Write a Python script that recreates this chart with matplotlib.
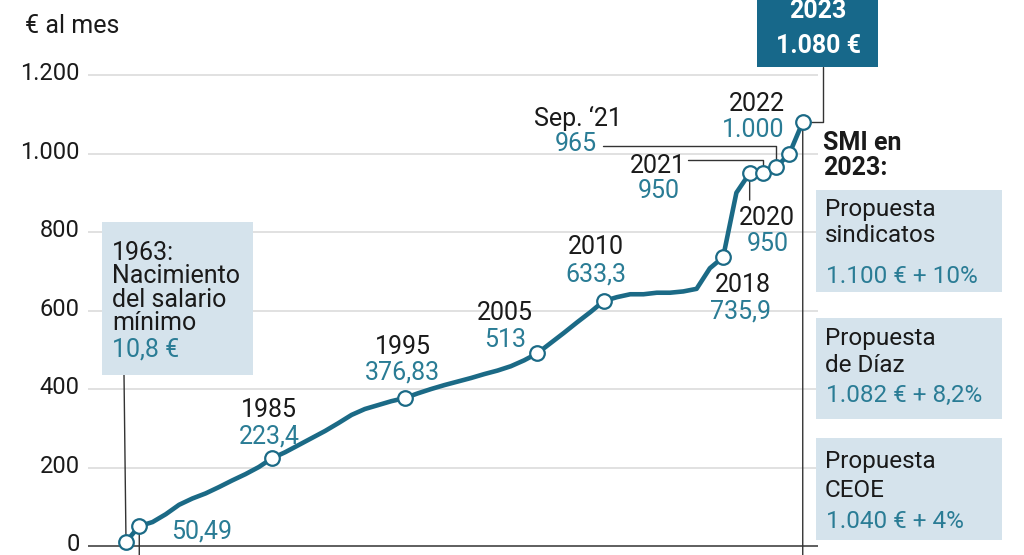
import matplotlib
matplotlib.use("Agg")
import matplotlib.pyplot as plt
import numpy as np
from matplotlib.patches import Rectangle
from matplotlib.transforms import ScaledTranslation

plt.rcParams["font.family"] = ["Roboto", "DejaVu Sans"]

# SMI (euros al mes), one entry per update of the series
smi = [10.8, 50.49, 61, 81, 105, 121, 134, 150, 167, 183, 201,
       223.4, 239, 257, 275, 293, 313, 334, 349, 359, 369,
       376.83, 389, 400, 410, 419, 428, 438, 447, 458, 473,
       491, 517, 543, 570, 596, 624,
       634, 641.4, 641.4, 645.3, 645.3, 648.6, 655.2, 707.6,
       735.9, 900, 950, 950, 965, 1000, 1080]

marker_pos = [0, 1, 11, 21, 31, 36, 45, 47, 48, 49, 50, 51]

label_pos = [1, 11, 21, 31, 36, 45, 47, 48, 49, 50]
label_years = ["", "1985", "1995", "2005", "2010", "2018", "2020", "2021", "Sep. ‘21", "2022"]
label_values = ["50,49", "223,4", "376,83", "513", "633,3", "735,9", "950", "950", "965", "1.000"]

yticks = [0, 200, 400, 600, 800, 1000, 1200]
ytick_labels = ["0", "200", "400", "600", "800", "1.000", "1.200"]

proposals = ["Propuesta\nsindicatos", "Propuesta\nde Díaz", "Propuesta\nCEOE"]
proposal_values = ["1.100 € + 10%", "1.082 € + 8,2%", "1.040 € + 4%"]

# label offsets in pixels: (dx_year, dy_year, dx_val, dy_val), baselines
offsets = [
    (0, 0, 62, -12.5),
    (-3, 41.5, -3, 14.5),
    (-2, 44.5, -2, 18.5),
    (-32, 33.5, -32, 6.5),
    (-8, 47.5, -8, 19.5),
    (20, -34.5, 17, -61.5),
    (17, -51.5, 18, -77.5),
    (-105, 0.5, -104, -24.5),
    (-198, 41.5, -200, 16.5),
    (-33, 42.5, -36, 16.5),
]

LINE = "#1b6a86"
TEAL = "#2a7c95"
DARK = "#1a1a1a"
BOXFILL = "#d5e3ec"
W, H = 1024, 555

fig = plt.figure(figsize=(W / 100, H / 100), dpi=100)
ax = fig.add_axes([88 / W, 0, 730 / W, 1])
x = np.arange(len(smi))
y = np.array(smi)

ax.set_xlim(-2.864, 52.15)
ax.set_ylim(-22.93, 1391.1)
for s in ax.spines.values():
    s.set_visible(False)
ax.set_xticks([])
ax.set_yticks(yticks)
ax.set_yticklabels(ytick_labels, fontsize=17, color=DARK)
ax.tick_params(axis="y", length=0, pad=6)
for lab in ax.get_yticklabels():
    lab.set_transform(lab.get_transform() + ScaledTranslation(0, 4 / 100, fig.dpi_scale_trans))
ax.grid(axis="y", color="#d9d9d9", lw=1.1)
ax.axhline(0, color="#555555", lw=1.3, zorder=2)

ax.plot(x, y, color=LINE, lw=3.3, solid_joinstyle="round", solid_capstyle="round", zorder=4)
ax.plot(x[marker_pos], y[marker_pos], "o", ms=10.5, mfc="white", mec=LINE, mew=1.6, zorder=5)

for i, p in enumerate(label_pos):
    dxy, dyy, dxv, dyv = offsets[i]
    if label_years[i]:
        ax.annotate(label_years[i], (x[p], y[p]), xytext=(dxy, dyy), textcoords="offset pixels",
                    ha="center", va="baseline", fontsize=18, color=DARK, zorder=6)
    ax.annotate(label_values[i], (x[p], y[p]), xytext=(dxv, dyv), textcoords="offset pixels",
                ha="center", va="baseline", fontsize=18, color=TEAL, zorder=6)

lead = dict(arrowstyle="-", color="#333333", lw=1.0, shrinkA=0, shrinkB=5)


def leader(p, dx, dy, conn="arc3"):
    ax.annotate("", (x[p], y[p]), xytext=(dx, dy), textcoords="offset pixels",
                arrowprops=dict(lead, connectionstyle=conn), zorder=3)


leader(0, -2, 167)
leader(1, 0, -35)
leader(47, 0, -27)
leader(48, -75, 13, "angle,angleA=0,angleB=90,rad=0")
leader(49, -173, 21, "angle,angleA=0,angleB=90,rad=0")
leader(51, 20, 55, "angle,angleA=90,angleB=0,rad=0")
leader(51, 0, -470)


def fxy(px, py):
    return px / W, 1 - py / H


def ftext(px, py, s, **kw):
    kw.setdefault("fontsize", 18)
    kw.setdefault("color", DARK)
    kw.setdefault("va", "baseline")
    fig.text(*fxy(px, py), s, **kw)


def fbox(x0, y0, x1, y1, color):
    fig.add_artist(Rectangle(fxy(x0, y1), (x1 - x0) / W, (y1 - y0) / H,
                             transform=fig.transFigure, facecolor=color, edgecolor="none", zorder=1))


ftext(25, 33, "€ al mes")

# 1963 box
fbox(102, 222, 253, 375, BOXFILL)
for txt, by in zip(["1963:", "Nacimiento", "del salario", "mínimo"], [260, 283, 307, 330]):
    ftext(112, by, txt)
ftext(112, 357, "10,8 €", color=TEAL)

# 2023 box
fbox(757, -5, 878, 67, "#17688a")
ftext(818, 18, "2023", color="white", fontweight="bold", ha="center")
ftext(818, 53, "1.080 €", color="white", fontweight="bold", ha="center")

ftext(823, 150, "SMI en", fontweight="bold")
ftext(823, 175, "2023:", fontweight="bold")

box_rows = [(190, 292, 216, 242, 283), (318, 419, 345, 372, 402), (438, 540, 468, 497, 528)]
for (t0, t1, b1, b2, b3), name, val in zip(box_rows, proposals, proposal_values):
    fbox(816, t0, 1002, t1, BOXFILL)
    l1, l2 = name.split("\n")
    ftext(825, b1, l1, fontsize=17.5)
    ftext(825, b2, l2, fontsize=17.5)
    ftext(826, b3, val, fontsize=17.5, color=TEAL)

fig.savefig("out.png", dpi=100)
